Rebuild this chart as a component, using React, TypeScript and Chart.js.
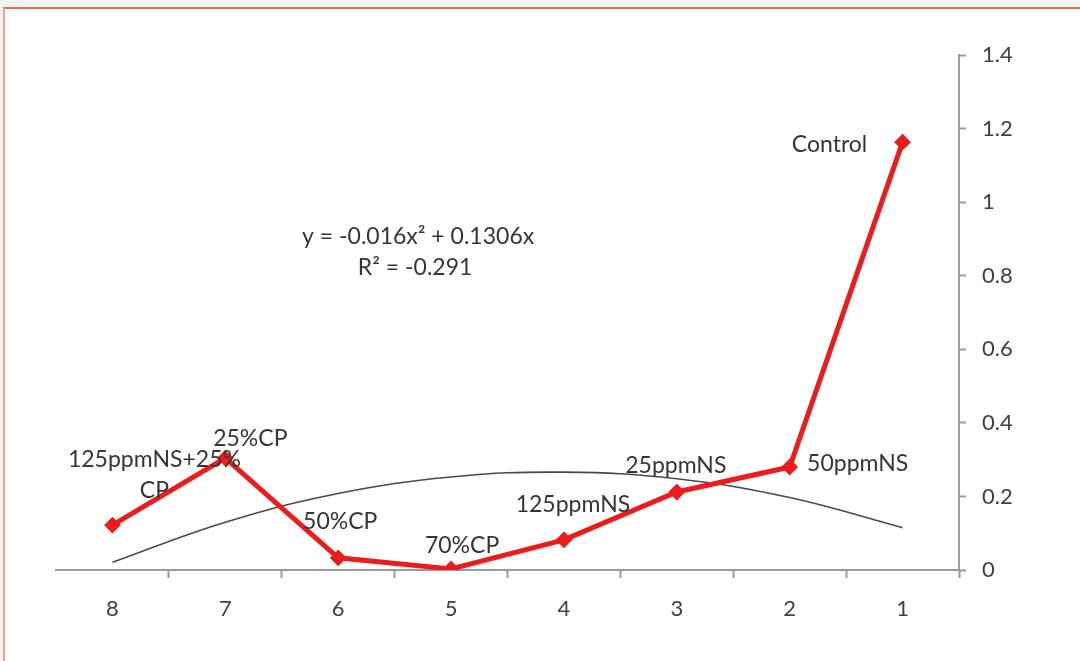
import React, { useEffect, useRef } from 'react';
import { Chart, registerables } from 'chart.js';

Chart.register(...registerables);

// ---- data ----
const categories = ['8', '7', '6', '5', '4', '3', '2', '1'];
const seriesValues = [0.122, 0.304, 0.033, 0.003, 0.082, 0.212, 0.28, 1.163];
const trendValues = [0.021, 0.13, 0.208, 0.253, 0.266, 0.248, 0.197, 0.115];
const pointLabels = [
  ['125ppmNS+25%', 'CP'],
  ['25%CP'],
  ['50%CP'],
  ['70%CP'],
  ['125ppmNS'],
  ['25ppmNS'],
  ['50ppmNS'],
  ['Control'],
];
const equationLines = ['y = -0.016x² + 0.1306x', 'R² = -0.291'];
const yMin = 0;
const yMax = 1.4;
const yStep = 0.2;

// ---- styling ----
const FONT = 'Lato';
const FONT_SIZE = 23;
const TEXT_COLOR = '#353535';
const TICK_COLOR = '#404040';
const AXIS_COLOR = '#9a9a9a';
const RED = '#ec1c1c';
const TREND = '#4a4a4a';
const labelOffsets: [number, number][] = [
  [42, -66],
  [25, -20],
  [2, -36],
  [11, -23],
  [9, -35],
  [-1, -26],
  [68, -3],
  [-73, 2],
];
const LINE_GAP = 31;

const labelPlugin = {
  id: 'pointLabelsPlugin',
  afterDatasetsDraw(chart: any) {
    const ctx = chart.ctx;
    const meta = chart.getDatasetMeta(0);
    ctx.save();
    ctx.font = `${FONT_SIZE}px ${FONT}`;
    ctx.fillStyle = TEXT_COLOR;
    ctx.textAlign = 'center';
    ctx.textBaseline = 'middle';
    meta.data.forEach((pt: any, i: number) => {
      const [dx, dy] = labelOffsets[i];
      pointLabels[i].forEach((line, j) => {
        ctx.fillText(line, pt.x + dx, pt.y + dy + j * LINE_GAP);
      });
    });
    const area = chart.chartArea;
    const ex = area.left + 0.401 * (area.right - area.left);
    const ey = area.top + 0.353 * (area.bottom - area.top);
    equationLines.forEach((line, j) => {
      ctx.fillText(line, ex - j * 3, ey + j * LINE_GAP);
    });
    ctx.restore();
  },
};

export default function App() {
  const canvasRef = useRef<HTMLCanvasElement | null>(null);

  useEffect(() => {
    if (!canvasRef.current) return;
    const chart = new Chart(canvasRef.current, {
      type: 'line',
      data: {
        labels: categories,
        datasets: [
          {
            data: seriesValues,
            borderColor: RED,
            backgroundColor: RED,
            borderWidth: 5,
            pointStyle: 'rectRot',
            pointRadius: 7,
            pointBorderWidth: 2,
            pointBackgroundColor: RED,
            pointBorderColor: RED,
            tension: 0,
            order: 0,
          },
          {
            data: trendValues,
            borderColor: TREND,
            borderWidth: 1.6,
            pointRadius: 0,
            tension: 0.4,
            order: 1,
          },
        ],
      },
      options: {
        responsive: false,
        animation: false,
        devicePixelRatio: 1,
        layout: { padding: { left: 56, top: 55, right: 0, bottom: 0 } },
        plugins: { legend: { display: false }, tooltip: { enabled: false } },
        scales: {
          x: {
            type: 'category',
            offset: true,
            grid: {
              offset: true,
              drawOnChartArea: false,
              drawTicks: true,
              tickLength: 8,
              tickColor: (c: any) => (c.index === 0 ? 'rgba(0,0,0,0)' : AXIS_COLOR),
              tickWidth: 2,
            },
            border: { color: AXIS_COLOR, width: 2 },
            ticks: {
              color: TICK_COLOR,
              font: { family: FONT, size: 22 },
              padding: 18,
              maxRotation: 0,
            },
            afterFit(scale: any) {
              scale.height = 91;
            },
          },
          y: {
            position: 'right',
            min: yMin,
            max: yMax,
            grid: {
              drawOnChartArea: false,
              drawTicks: true,
              tickLength: 7,
              tickColor: AXIS_COLOR,
              tickWidth: 2,
            },
            border: { color: AXIS_COLOR, width: 2 },
            ticks: {
              stepSize: yStep,
              color: TICK_COLOR,
              font: { family: FONT, size: 22 },
              padding: 16,
              callback: (v: any) => String(Math.round(Number(v) * 10) / 10),
            },
            afterFit(scale: any) {
              scale.width = 121;
            },
          },
        },
      },
      plugins: [labelPlugin],
    });
    return () => chart.destroy();
  }, []);

  return (
    <div
      style={{
        position: 'fixed',
        left: 0,
        top: 0,
        width: 1080,
        height: 661,
        background: '#f3f5f4',
        overflow: 'hidden',
      }}
    >
      <div
        style={{
          position: 'absolute',
          left: 3,
          top: 7,
          right: 0,
          bottom: 0,
          background: '#ffffff',
          borderTop: '2px solid #ef6a4b',
          borderLeft: '2px solid #f4a08a',
        }}
      />
      <canvas
        ref={canvasRef}
        width={1080}
        height={661}
        style={{ position: 'absolute', left: 0, top: 0 }}
      />
    </div>
  );
}
